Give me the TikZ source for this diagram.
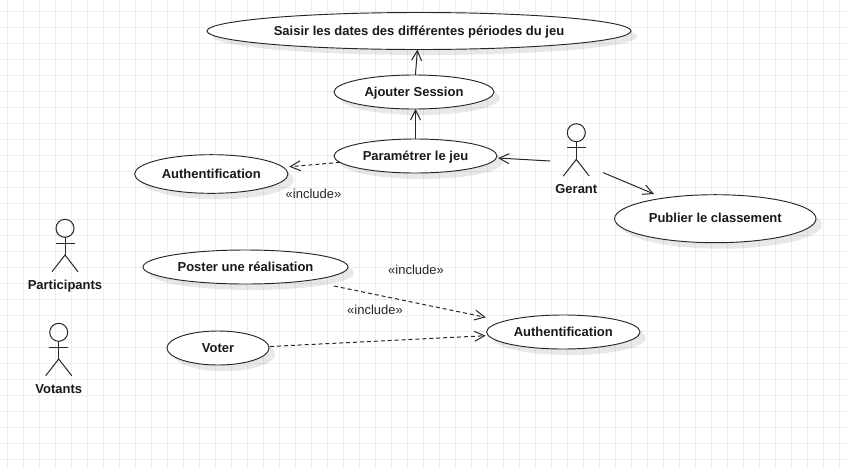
\documentclass[tikz,border=0pt]{standalone}
\usepackage{fontspec}
\setmainfont{Liberation Sans}
\usetikzlibrary{shapes.geometric,arrows.meta}
\definecolor{gridcol}{HTML}{EEEEEE}
\tikzset{
  x=0.75pt, y=-0.75pt,
  usecase/.style 2 args={ellipse, draw=black!85, fill=white, line width=0.7pt, inner sep=0pt, outer sep=0pt,
     text height=7.4pt, text depth=1pt,
     minimum width=#1*1.5pt, minimum height=#2*1.5pt, font=\bfseries\fontsize{9.75}{11}\selectfont, text=black!90},
  shadowell/.style 2 args={ellipse, fill=black, fill opacity=0.09, inner sep=0pt, outer sep=0pt,
     minimum width=#1*1.5pt, minimum height=#2*1.5pt},
  assoc/.style={line width=0.75pt, draw=black!85, -{Straight Barb[length=7.5pt,width=7.5pt,line width=0.75pt]}},
  dep/.style={assoc, dash pattern=on 3pt off 2.2pt},
  inclabel/.style={font=\fontsize{9.75}{11}\selectfont, text=black!85, inner sep=0pt, text height=7.4pt, text depth=1pt},
  actorname/.style={font=\bfseries\fontsize{9.75}{11}\selectfont, text=black!90, inner sep=0pt, text height=7.4pt, text depth=1pt},
  actorline/.style={line width=0.75pt, draw=black!85},
  pics/actorfig/.style={code={
    \draw[actorline] (0,0) circle[radius=9];
    \draw[actorline] (0,9) -- (0,26.7);
    \draw[actorline] (-9.5,15) -- (9.5,15);
    \draw[actorline] (-13,43.4) -- (0,26.7) -- (13,43.4);
  }},
}
\begin{document}
\begin{tikzpicture}
\useasboundingbox (0,0) rectangle (846,469);
\fill[white] (0,0) rectangle (846,469);
\foreach \gx in {0,...,52} \draw[gridcol, line width=0.75pt] ({7.5+16*\gx},0) -- ({7.5+16*\gx},469);
\foreach \gy in {0,...,28} \draw[gridcol, line width=0.75pt] (0,{11.7+16*\gy}) -- (846,{11.7+16*\gy});

% shadows
\node[shadowell={212}{18.5}] (shsa) at (425,36.5) {};
\node[shadowell={80}{17}] (shaj) at (420,98) {};
\node[shadowell={81.5}{17}] (shpa) at (421.5,162) {};
\node[shadowell={76.7}{19.3}] (shau) at (217.3,180) {};
\node[shadowell={100.7}{24}] (shpu) at (721.3,224.7) {};
\node[shadowell={102.5}{17}] (shpo) at (251.5,273) {};
\node[shadowell={51}{17}] (shvo) at (224,354) {};
\node[shadowell={76.7}{17}] (shav) at (569.3,338) {};

% use cases
\node[usecase={212}{18.5}] (sa) at (419,31) {Saisir les dates des différentes périodes du jeu};
\node[usecase={80}{17}] (aj) at (414,92) {Ajouter Session};
\node[usecase={81.5}{17}] (pa) at (415.5,156) {Paramétrer le jeu};
\node[usecase={76.7}{19.3}] (au) at (211.3,174) {Authentification};
\node[usecase={100.7}{24}] (pu) at (715.3,218.7) {Publier le classement};
\node[usecase={102.5}{17}] (po) at (245.5,267) {Poster une réalisation};
\node[usecase={51}{17}] (vo) at (218,348) {Voter};
\node[usecase={76.7}{17}] (av) at (563.3,332) {Authentification};

% actors
\pic at (65,228.3) {actorfig};
\pic at (58.7,332.3) {actorfig};
\pic at (576.3,132.7) {actorfig};
\node[actorname] (np) at (65,285.5) {Participants};
\node[actorname] (nv) at (58.7,389.5) {Votants};
\node[actorname] (ng) at (576.3,189.5) {Gerant};
\coordinate (gerantL) at (550,161);
\coordinate (gerantR) at (603.3,172.7);

% connectors
\draw[assoc] (aj) -- (sa);
\draw[assoc] (pa.north) -- (pa.north |- aj.south);
\draw[dep] (pa) -- ([shift={(78,-7.3)}]au.center);
\draw[assoc] (gerantL) -- ([shift={(82.5,2)}]pa.center);
\draw[assoc] (gerantR) -- ([shift={(-61.3,-24.7)}]pu.center);
\draw[dep] ([shift={(88.5,19)}]po.center) -- ([shift={(-77.6,-14.7)}]av.center);
\draw[dep] ([shift={(1,-1.5)}]vo.east) -- ([shift={(-1,3.7)}]av.west);

% labels
\node[inclabel] (i1) at (313.5,194) {«include»};
\node[inclabel] (i2) at (416,270.7) {«include»};
\node[inclabel] (i3) at (375,310.7) {«include»};
\end{tikzpicture}
\end{document}
